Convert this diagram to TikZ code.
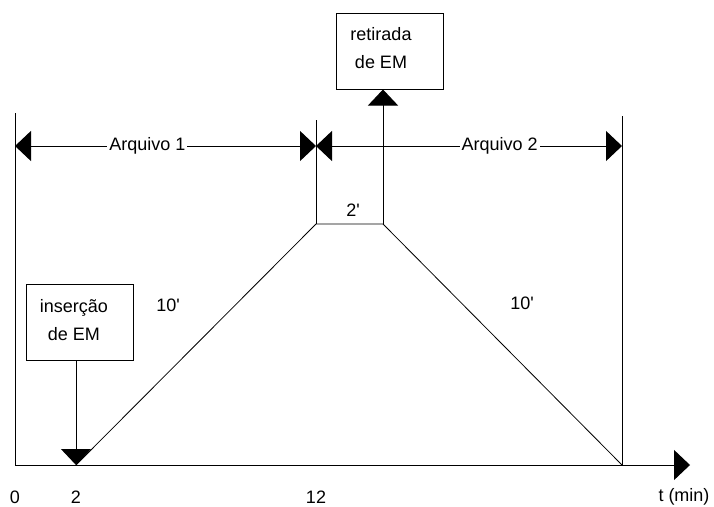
\documentclass[tikz,border=0pt]{standalone}
\usepackage{fontspec}
\setmainfont{Liberation Sans}[Ligatures=TeXOff]
\usetikzlibrary{arrows.meta}

\tikzset{
  tip/.style={-{Triangle[length=16pt,width=30pt]}},
  dimline/.style={{Triangle[length=16pt,width=30pt]}-{Triangle[length=16pt,width=30pt]}},
  evbox/.style={draw,minimum width=107pt,minimum height=76pt,inner sep=0pt},
  lbl/.style={align=center,inner sep=1pt},
}

\begin{document}
\begin{tikzpicture}[x=1pt,y=-1pt,line width=1pt,font=\fontsize{18}{28}\selectfont]
  \useasboundingbox (0,0) rectangle (714,506);

  % points of the time profile
  \coordinate (o)    at (15,465);
  \coordinate (t2)   at (76,465);
  \coordinate (a)    at (316,224);
  \coordinate (b)    at (383,224);
  \coordinate (c)    at (622,465);
  \coordinate (tend) at (690,465);

  % draw the time axis
  \draw[tip] (o) -- (tend);

  % draw the vertical limits
  \coordinate (l0) at (15,113);
  \coordinate (l1) at (316,120);
  \coordinate (l2) at (622,116);
  \draw (o) -- (l0);
  \draw (a) -- (l1);
  \draw (c) -- (l2);

  % draw the profile
  \draw[line width=0.8pt] (t2) -- (a) -- (b) -- (c);

  % draw the two files
  \coordinate (d0) at (15,146);
  \coordinate (d1) at (316,146);
  \coordinate (d2) at (622,146);
  \draw[dimline] (d0) -- (d1) node[pos=0.44,fill=white,inner sep=2pt] (arq1) {Arquivo 1};
  \draw[dimline] (d1) -- (d2) node[pos=0.6,fill=white,inner sep=2pt] (arq2) {Arquivo 2};

  % insertion and removal boxes
  \node[evbox] (ins) at (79.5,322) {};
  \node[lbl] (instext) at ([shift={(-5.5,-2)}]ins.center) {inserção\\de EM};
  \node[evbox] (ret) at (390,51) {};
  \node[lbl] (rettext) at ([shift={(-9,-3)}]ret.center) {retirada\\de EM};
  \draw[tip] (ins.south -| t2) -- (t2);
  \draw[tip] (b) -- (b |- ret.south);

  % durations
  \node (dur1) at (168,305) {10'};
  \node (dur2) at (353,210) {2'};
  \node (dur3) at (522,303) {10'};

  % time labels
  \foreach \x/\t in {15/0,76/2,316/12}
    \node[inner sep=0pt] (tick\t) at (\x,497) {\t};
  \node[inner sep=0pt] (tunit) at (684,497) {t (min)};
\end{tikzpicture}
\end{document}
